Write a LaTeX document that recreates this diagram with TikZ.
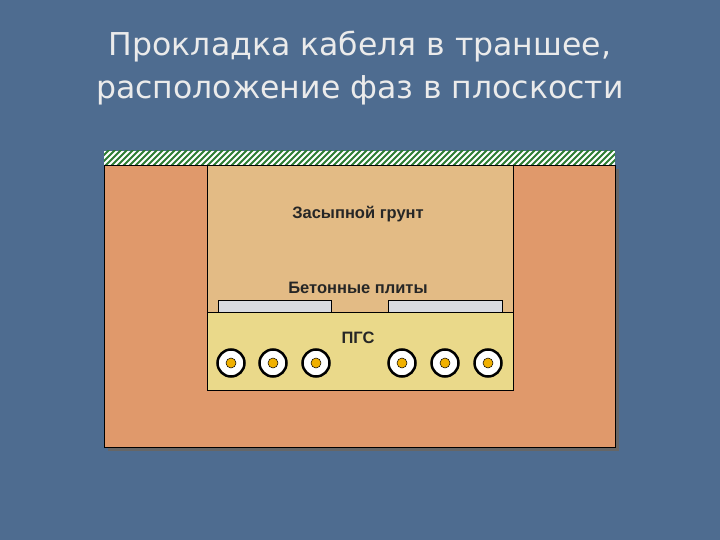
\documentclass[tikz,border=0pt]{standalone}
\usepackage{fontspec}
\setmainfont{DejaVu Sans}
\newfontfamily\arialf{Liberation Sans}
\definecolor{bg}{HTML}{4E6C90}
\definecolor{soil}{HTML}{E0996B}
\definecolor{fill2}{HTML}{E3BB85}
\definecolor{pgs}{HTML}{EAD98A}
\definecolor{slab}{HTML}{D9DBE0}
\definecolor{hatchg}{HTML}{2E7D32}
\definecolor{core}{HTML}{F0B000}
\tikzset{x=1pt,y=-1pt,
 lab/.style={font=\arialf\fontsize{16.5}{19}\selectfont,text=black!85},
 cab/.style={circle,draw=black,line width=2.5pt,fill=white,minimum size=27pt,inner sep=0pt},
 cabcore/.style={circle,draw=black,line width=0.5pt,fill=core,minimum size=10pt,inner sep=0pt}}
\begin{document}
\begin{tikzpicture}
\useasboundingbox (0,0) rectangle (720,540);
\fill[bg] (0,0) rectangle (720,540);
\node[text=white!92!black,font=\fontsize{31.5}{43}\selectfont,align=center] (title) at (360,68) {Прокладка кабеля в траншее,\\расположение фаз в плоскости};
\fill[black!60] (108,169) rectangle (619,451);
\draw[black,fill=soil] (104,165) rectangle (615,447);
\fill[white] (104,151) rectangle (615,165);
\begin{scope}
\clip (104,151) rectangle (615,165);
\foreach \k in {-20,-14,...,530}{
 \draw[hatchg,line width=1.8pt] (100+\k,167) -- (118+\k,149);
}
\end{scope}
\draw[black,fill=fill2] (207,165) rectangle (513,390);
\draw[black,fill=pgs] (207,312) rectangle (513,390);
\draw[black,fill=slab] (218,300) rectangle (331,312);
\draw[black,fill=slab] (388,300) rectangle (502,312);
\node[lab] (zg) at (358,214) {\bfseries Засыпной грунт};
\node[lab] (bp) at (358,288) {\bfseries Бетонные плиты};
\node[lab] (pg) at (358,338) {\bfseries ПГС};
\foreach \i/\x in {1/231,2/273,3/316,4/402,5/445,6/488}{
 \node[cab] (c\i) at (\x,363) {};
 \node[cabcore] (k\i) at (\x,363) {};
}
\end{tikzpicture}
\end{document}
